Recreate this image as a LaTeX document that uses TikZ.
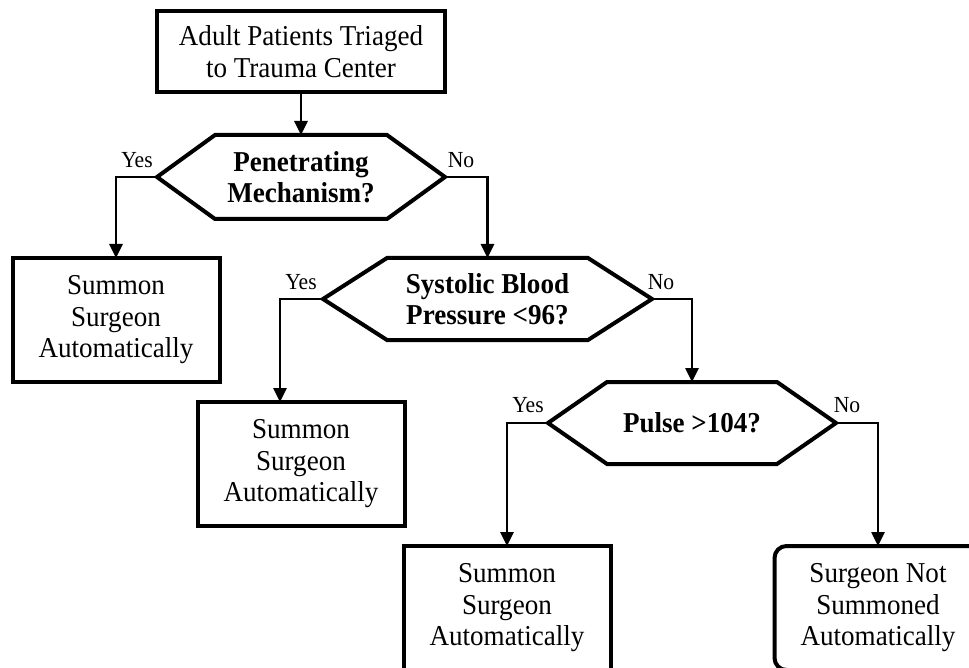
\documentclass[tikz,border=0pt]{standalone}
\usepackage{fontspec}
\setmainfont{Liberation Serif}[FakeStretch=0.94]
\usetikzlibrary{arrows.meta}
\newcommand\drawhexagon[2]{\draw[hexline] (#1.west) -- ([xshift=#2]#1.north west) -- ([xshift=-#2]#1.north east) -- (#1.east) -- ([xshift=-#2]#1.south east) -- ([xshift=#2]#1.south west) -- cycle;}
\tikzset{
 box/.style={draw, line width=4pt, minimum width=207pt, minimum height=124pt, inner sep=0pt, outer sep=0pt, align=center, font=\fontsize{28.8}{31.5}\selectfont},
 hexnode/.style={inner sep=0pt, outer sep=0pt, align=center, font=\fontsize{28.8}{31.5}\selectfont\bfseries},
 hexline/.style={line width=4pt, line join=miter},
 conn/.style={line width=2.6pt, line join=miter, -{Triangle[width=13pt,length=14pt]}},
 lab/.style={font=\fontsize{23}{26}\selectfont, inner sep=0pt},
}
\begin{document}
\begin{tikzpicture}[x=1pt,y=-1pt]
\useasboundingbox (0,0) rectangle (969,668);
\clip (0,0) rectangle (969,668);
\fill[white] (0,0) rectangle (969,668);

\node[box, minimum width=288pt, minimum height=81pt] (start) at (301,51.5) {Adult Patients Triaged\\to Trauma Center};
\node[hexnode, minimum width=288pt, minimum height=84pt] (h1) at (301,177) {Penetrating\\Mechanism?};
\drawhexagon{h1}{58pt}
\node[box] (b1) at (116,320) {Summon\\Surgeon\\Automatically};
\node[hexnode, minimum width=329pt, minimum height=82pt] (h2) at (487.5,299) {Systolic Blood\\Pressure <96?};
\drawhexagon{h2}{64pt}
\node[box] (b2) at (301,464) {Summon\\Surgeon\\Automatically};
\node[hexnode, minimum width=288pt, minimum height=82pt] (h3) at (692,423) {Pulse >104?};
\drawhexagon{h3}{59pt}
\node[box] (b3) at (507,608) {Summon\\Surgeon\\Automatically};
\node[box, rounded corners=12pt] (b4) at (878,608) {Surgeon Not\\Summoned\\Automatically};

\coordinate (b2in) at ([xshift=-21pt]b2.north);
\draw[conn] (start.south) -- (h1.north);
\draw[conn] (h1.west) -| (b1.north);
\draw[conn] (h1.east) -| (h2.north);
\draw[conn] (h2.west) -| (b2in);
\draw[conn] (h2.east) -| (h3.north);
\draw[conn] (h3.west) -| (b3.north);
\draw[conn] (h3.east) -| (b4.north);

\node[lab] (y1) at (137,160) {Yes};
\node[lab] (n1) at (461,160) {No};
\node[lab] (y2) at (301,282) {Yes};
\node[lab] (n2) at (661,282) {No};
\node[lab] (y3) at (528,405) {Yes};
\node[lab] (n3) at (847,405) {No};
\end{tikzpicture}
\end{document}
